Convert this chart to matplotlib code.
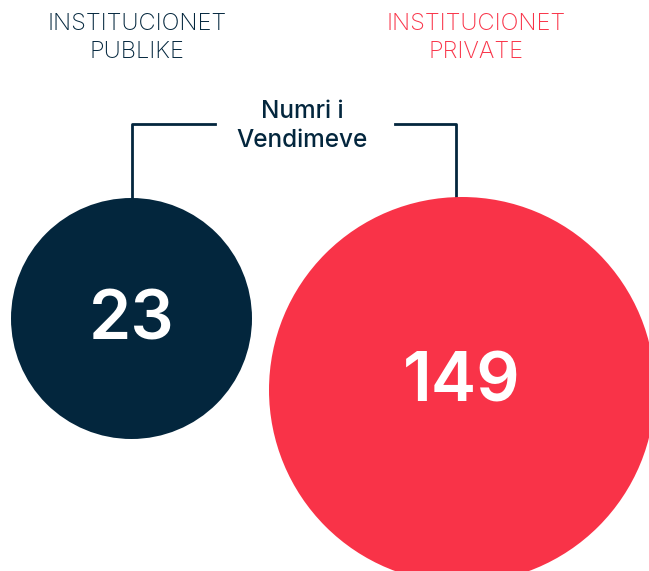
import matplotlib.pyplot as plt
from matplotlib.patches import Circle

# data
groups = ['INSTITUCIONET\nPUBLIKE', 'INSTITUCIONET\nPRIVATE']
values = [23, 149]
colors = ['#03263d', '#f93348']
centre_label = 'Numri i\nVendimeve'

# layout in pixels (image coords, y down)
cx = [131.5, 462]
cy = [318.5, 390]
rad = [120.5, 193]
title_x = [137, 476]
num_y = [322, 383]

fig = plt.figure(figsize=(6.49, 5.71), dpi=100)
ax = fig.add_axes([0, 0, 1, 1])
ax.set_xlim(0, 649)
ax.set_ylim(571, 0)
ax.set_aspect('equal')
ax.axis('off')

for i in range(2):
    ax.add_patch(Circle((cx[i], cy[i]), rad[i], color=colors[i], lw=0, zorder=2))
    ax.text(cx[i], num_y[i], str(values[i]), color='white', fontsize=49,
            fontweight='semibold', ha='center', va='center', family='Inter', zorder=3)
    ax.text(title_x[i], 38, groups[i], color=colors[i], fontsize=17,
            ha='center', va='center', family='Inter', fontweight='light',
            linespacing=1.4)

# bracket lines
line_col = '#03263d'
ax.plot([cx[0], cx[0], 215], [cy[0] - rad[0], 124, 124], color=line_col, lw=2, zorder=1)
ax.plot([395, 456, 456], [124, 124, cy[1] - rad[1]], color=line_col, lw=2, zorder=1)

ax.text(302, 126, centre_label, color=line_col, fontsize=17.5, ha='center',
        va='center', family='Inter', fontweight='medium', linespacing=1.38)

fig.savefig('out.png', dpi=100)
